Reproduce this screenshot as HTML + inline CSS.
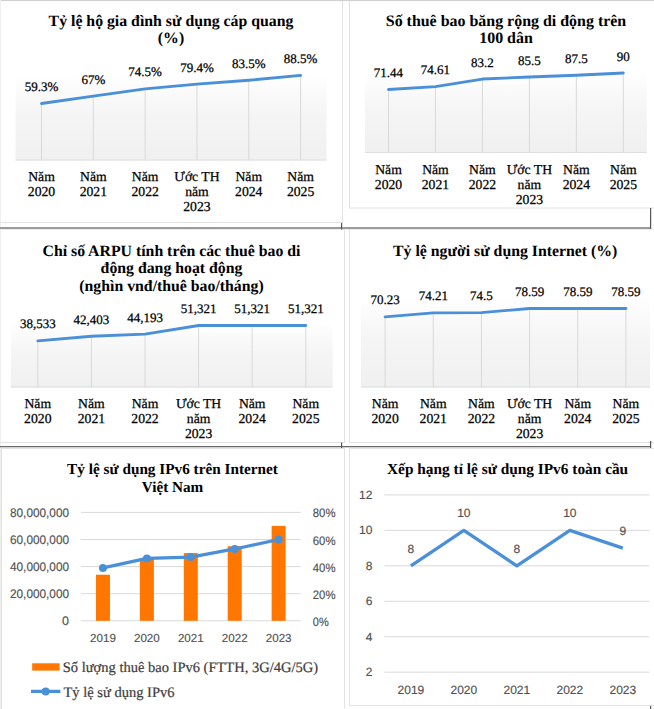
<!DOCTYPE html>
<html><head><meta charset="utf-8">
<style>
html,body{margin:0;padding:0;background:#fff;}
svg{display:block;}
text{font-family:"Liberation Serif",serif;text-rendering:geometricPrecision;}
.t{font-weight:bold;font-size:15.8px;fill:#000;text-anchor:middle}
.l{font-size:13px;fill:#000;text-anchor:middle;stroke:#000;stroke-width:0.25px}
.s{font-family:"Liberation Sans",sans-serif;font-size:11px;fill:#505050;stroke:#505050;stroke-width:0.15px}
</style></head><body>
<svg width="654" height="709" viewBox="0 0 654 709">
<defs><linearGradient id="g" x1="0" y1="0" x2="0" y2="1"><stop offset="0" stop-color="#ffffff"/><stop offset="0.45" stop-color="#f5f5f5"/><stop offset="1" stop-color="#f0f0f0"/></linearGradient></defs>

<g fill="none" stroke-width="1">
<rect x="-1" y="0.5" width="343.5" height="222" stroke="#e2e2e2"/>
<rect x="349.5" y="0.5" width="310" height="207.5" stroke="#e0e0e0"/>
<rect x="-1" y="229.5" width="345.5" height="213" stroke="#e2e2e2"/>
<rect x="349.5" y="229.5" width="310" height="213" stroke="#e2e2e2"/>
<rect x="1.5" y="448.5" width="343" height="270" stroke="#e2e2e2"/>
<rect x="349.5" y="448.5" width="310" height="257" stroke="#e2e2e2"/>
<line x1="0" y1="0.5" x2="654" y2="0.5" stroke="#d0d0d0"/>
<line x1="0.5" y1="0" x2="0.5" y2="709" stroke="#eeeeee"/>
<line x1="0" y1="229.5" x2="654" y2="229.5" stroke="#ececec"/>
</g>
<rect x="0" y="227" width="651" height="2" fill="#9b9b9b"/>
<rect x="0" y="446" width="651" height="1.3" fill="#6a6a6a"/>
<rect x="341" y="223" width="1.2" height="6.5" fill="#555"/>
<rect x="650" y="208" width="1.2" height="21" fill="#555"/>
<rect x="341" y="442.5" width="1.2" height="5.5" fill="#555"/>
<rect x="650" y="441" width="1.2" height="7" fill="#555"/>
<rect x="650" y="706" width="1.2" height="3" fill="#555"/>
<rect x="15.6" y="74" width="310.9" height="86.5" fill="url(#g)"/>
<line x1="41.51" y1="103.51" x2="41.51" y2="160.5" stroke="#d9d9d9" stroke-width="1"/>
<line x1="93.32" y1="96.11" x2="93.32" y2="160.5" stroke="#d9d9d9" stroke-width="1"/>
<line x1="145.14" y1="88.90" x2="145.14" y2="160.5" stroke="#d9d9d9" stroke-width="1"/>
<line x1="196.96" y1="84.19" x2="196.96" y2="160.5" stroke="#d9d9d9" stroke-width="1"/>
<line x1="248.77" y1="80.25" x2="248.77" y2="160.5" stroke="#d9d9d9" stroke-width="1"/>
<line x1="300.59" y1="75.44" x2="300.59" y2="160.5" stroke="#d9d9d9" stroke-width="1"/>
<line x1="15.6" y1="160.0" x2="326.5" y2="160.0" stroke="#dedede" stroke-width="1"/>
<polyline points="41.51,103.51 93.32,96.11 145.14,88.90 196.96,84.19 248.77,80.25 300.59,75.44" fill="none" stroke="#4a90d9" stroke-width="2.85" stroke-linejoin="round" stroke-linecap="round"/>
<text class="l" x="41.51" y="91.01">59.3%</text>
<text class="l" x="93.32" y="83.61">67%</text>
<text class="l" x="145.14" y="76.40">74.5%</text>
<text class="l" x="196.96" y="71.69">79.4%</text>
<text class="l" x="248.77" y="67.75">83.5%</text>
<text class="l" x="300.59" y="62.94">88.5%</text>
<text class="l" style="font-size:13.7px" x="41.51" y="181.40">Năm</text>
<text class="l" style="font-size:13.7px" x="41.51" y="196.25">2020</text>
<text class="l" style="font-size:13.7px" x="93.32" y="181.40">Năm</text>
<text class="l" style="font-size:13.7px" x="93.32" y="196.25">2021</text>
<text class="l" style="font-size:13.7px" x="145.14" y="181.40">Năm</text>
<text class="l" style="font-size:13.7px" x="145.14" y="196.25">2022</text>
<text class="l" style="font-size:13.7px" x="196.96" y="181.40">Ước TH</text>
<text class="l" style="font-size:13.7px" x="196.96" y="196.25">năm</text>
<text class="l" style="font-size:13.7px" x="196.96" y="211.10">2023</text>
<text class="l" style="font-size:13.7px" x="248.77" y="181.40">Năm</text>
<text class="l" style="font-size:13.7px" x="248.77" y="196.25">2024</text>
<text class="l" style="font-size:13.7px" x="300.59" y="181.40">Năm</text>
<text class="l" style="font-size:13.7px" x="300.59" y="196.25">2025</text>
<text class="t" style="font-size:15.8px" x="171" y="25.80">Tỷ lệ hộ gia đình sử dụng cáp quang</text>
<text class="t" style="font-size:15.8px" x="171" y="43.40">(%)</text>
<rect x="365" y="73" width="281.79999999999995" height="80" fill="url(#g)"/>
<line x1="388.48" y1="89.50" x2="388.48" y2="153" stroke="#d9d9d9" stroke-width="1"/>
<line x1="435.45" y1="86.68" x2="435.45" y2="153" stroke="#d9d9d9" stroke-width="1"/>
<line x1="482.42" y1="79.04" x2="482.42" y2="153" stroke="#d9d9d9" stroke-width="1"/>
<line x1="529.38" y1="77.00" x2="529.38" y2="153" stroke="#d9d9d9" stroke-width="1"/>
<line x1="576.35" y1="75.22" x2="576.35" y2="153" stroke="#d9d9d9" stroke-width="1"/>
<line x1="623.32" y1="73.00" x2="623.32" y2="153" stroke="#d9d9d9" stroke-width="1"/>
<line x1="365" y1="152.5" x2="646.8" y2="152.5" stroke="#dedede" stroke-width="1"/>
<polyline points="388.48,89.50 435.45,86.68 482.42,79.04 529.38,77.00 576.35,75.22 623.32,73.00" fill="none" stroke="#4a90d9" stroke-width="2.85" stroke-linejoin="round" stroke-linecap="round"/>
<text class="l" x="388.48" y="77.10">71.44</text>
<text class="l" x="435.45" y="74.28">74.61</text>
<text class="l" x="482.42" y="66.64">83.2</text>
<text class="l" x="529.38" y="64.60">85.5</text>
<text class="l" x="576.35" y="62.82">87.5</text>
<text class="l" x="623.32" y="60.60">90</text>
<text class="l" style="font-size:13.7px" x="388.48" y="173.90">Năm</text>
<text class="l" style="font-size:13.7px" x="388.48" y="188.75">2020</text>
<text class="l" style="font-size:13.7px" x="435.45" y="173.90">Năm</text>
<text class="l" style="font-size:13.7px" x="435.45" y="188.75">2021</text>
<text class="l" style="font-size:13.7px" x="482.42" y="173.90">Năm</text>
<text class="l" style="font-size:13.7px" x="482.42" y="188.75">2022</text>
<text class="l" style="font-size:13.7px" x="529.38" y="173.90">Ước TH</text>
<text class="l" style="font-size:13.7px" x="529.38" y="188.75">năm</text>
<text class="l" style="font-size:13.7px" x="529.38" y="203.60">2023</text>
<text class="l" style="font-size:13.7px" x="576.35" y="173.90">Năm</text>
<text class="l" style="font-size:13.7px" x="576.35" y="188.75">2024</text>
<text class="l" style="font-size:13.7px" x="623.32" y="173.90">Năm</text>
<text class="l" style="font-size:13.7px" x="623.32" y="188.75">2025</text>
<text class="t" style="font-size:15.95px" x="506" y="25.70">Số thuê bao băng rộng di động trên</text>
<text class="t" style="font-size:15.95px" x="506" y="43.30">100 dân</text>
<rect x="11" y="322.5" width="321.6" height="65.0" fill="url(#g)"/>
<line x1="37.80" y1="340.94" x2="37.80" y2="387.5" stroke="#d9d9d9" stroke-width="1"/>
<line x1="91.40" y1="336.26" x2="91.40" y2="387.5" stroke="#d9d9d9" stroke-width="1"/>
<line x1="145.00" y1="334.10" x2="145.00" y2="387.5" stroke="#d9d9d9" stroke-width="1"/>
<line x1="198.60" y1="325.49" x2="198.60" y2="387.5" stroke="#d9d9d9" stroke-width="1"/>
<line x1="252.20" y1="325.49" x2="252.20" y2="387.5" stroke="#d9d9d9" stroke-width="1"/>
<line x1="305.80" y1="325.49" x2="305.80" y2="387.5" stroke="#d9d9d9" stroke-width="1"/>
<line x1="11" y1="387.0" x2="332.6" y2="387.0" stroke="#dedede" stroke-width="1"/>
<polyline points="37.80,340.94 91.40,336.26 145.00,334.10 198.60,325.49 252.20,325.49 305.80,325.49" fill="none" stroke="#4a90d9" stroke-width="2.85" stroke-linejoin="round" stroke-linecap="round"/>
<text class="l" x="37.80" y="328.44">38,533</text>
<text class="l" x="91.40" y="323.76">42,403</text>
<text class="l" x="145.00" y="321.60">44,193</text>
<text class="l" x="198.60" y="312.99">51,321</text>
<text class="l" x="252.20" y="312.99">51,321</text>
<text class="l" x="305.80" y="312.99">51,321</text>
<text class="l" style="font-size:13.7px" x="37.80" y="408.00">Năm</text>
<text class="l" style="font-size:13.7px" x="37.80" y="422.85">2020</text>
<text class="l" style="font-size:13.7px" x="91.40" y="408.00">Năm</text>
<text class="l" style="font-size:13.7px" x="91.40" y="422.85">2021</text>
<text class="l" style="font-size:13.7px" x="145.00" y="408.00">Năm</text>
<text class="l" style="font-size:13.7px" x="145.00" y="422.85">2022</text>
<text class="l" style="font-size:13.7px" x="198.60" y="408.00">Ước TH</text>
<text class="l" style="font-size:13.7px" x="198.60" y="422.85">năm</text>
<text class="l" style="font-size:13.7px" x="198.60" y="437.70">2023</text>
<text class="l" style="font-size:13.7px" x="252.20" y="408.00">Năm</text>
<text class="l" style="font-size:13.7px" x="252.20" y="422.85">2024</text>
<text class="l" style="font-size:13.7px" x="305.80" y="408.00">Năm</text>
<text class="l" style="font-size:13.7px" x="305.80" y="422.85">2025</text>
<text class="t" style="font-size:15.8px" x="171.5" y="256.00">Chỉ số ARPU tính trên các thuê bao di</text>
<text class="t" style="font-size:15.8px" x="171.5" y="273.30">động đang hoạt động</text>
<text class="t" style="font-size:15.8px" x="171.5" y="290.60">(nghìn vnđ/thuê bao/tháng)</text>
<rect x="361" y="297" width="289" height="90.5" fill="url(#g)"/>
<line x1="385.08" y1="316.88" x2="385.08" y2="387.5" stroke="#d9d9d9" stroke-width="1"/>
<line x1="433.25" y1="312.88" x2="433.25" y2="387.5" stroke="#d9d9d9" stroke-width="1"/>
<line x1="481.42" y1="312.59" x2="481.42" y2="387.5" stroke="#d9d9d9" stroke-width="1"/>
<line x1="529.58" y1="308.47" x2="529.58" y2="387.5" stroke="#d9d9d9" stroke-width="1"/>
<line x1="577.75" y1="308.47" x2="577.75" y2="387.5" stroke="#d9d9d9" stroke-width="1"/>
<line x1="625.92" y1="308.47" x2="625.92" y2="387.5" stroke="#d9d9d9" stroke-width="1"/>
<line x1="361" y1="387.0" x2="650" y2="387.0" stroke="#dedede" stroke-width="1"/>
<polyline points="385.08,316.88 433.25,312.88 481.42,312.59 529.58,308.47 577.75,308.47 625.92,308.47" fill="none" stroke="#4a90d9" stroke-width="2.85" stroke-linejoin="round" stroke-linecap="round"/>
<text class="l" x="385.08" y="304.18">70.23</text>
<text class="l" x="433.25" y="300.18">74.21</text>
<text class="l" x="481.42" y="299.89">74.5</text>
<text class="l" x="529.58" y="295.77">78.59</text>
<text class="l" x="577.75" y="295.77">78.59</text>
<text class="l" x="625.92" y="295.77">78.59</text>
<text class="l" style="font-size:13.7px" x="385.08" y="408.30">Năm</text>
<text class="l" style="font-size:13.7px" x="385.08" y="423.15">2020</text>
<text class="l" style="font-size:13.7px" x="433.25" y="408.30">Năm</text>
<text class="l" style="font-size:13.7px" x="433.25" y="423.15">2021</text>
<text class="l" style="font-size:13.7px" x="481.42" y="408.30">Năm</text>
<text class="l" style="font-size:13.7px" x="481.42" y="423.15">2022</text>
<text class="l" style="font-size:13.7px" x="529.58" y="408.30">Ước TH</text>
<text class="l" style="font-size:13.7px" x="529.58" y="423.15">năm</text>
<text class="l" style="font-size:13.7px" x="529.58" y="438.00">2023</text>
<text class="l" style="font-size:13.7px" x="577.75" y="408.30">Năm</text>
<text class="l" style="font-size:13.7px" x="577.75" y="423.15">2024</text>
<text class="l" style="font-size:13.7px" x="625.92" y="408.30">Năm</text>
<text class="l" style="font-size:13.7px" x="625.92" y="423.15">2025</text>
<text class="t" style="font-size:15.8px" x="505.2" y="255.80">Tỷ lệ người sử dụng Internet (%)</text>
<line x1="81" y1="512.4" x2="300.6" y2="512.4" stroke="#d9d9d9" stroke-width="1"/>
<line x1="81" y1="539.5" x2="300.6" y2="539.5" stroke="#d9d9d9" stroke-width="1"/>
<line x1="81" y1="566.6" x2="300.6" y2="566.6" stroke="#d9d9d9" stroke-width="1"/>
<line x1="81" y1="593.7" x2="300.6" y2="593.7" stroke="#d9d9d9" stroke-width="1"/>
<line x1="81" y1="620.8" x2="300.6" y2="620.8" stroke="#d9d9d9" stroke-width="1"/>
<text class="s" style="font-size:12.5px" x="69" y="516.70" text-anchor="end" textLength="59.0" lengthAdjust="spacingAndGlyphs">80,000,000</text>
<text class="s" style="font-size:12.3px" x="312.8" y="517.40" textLength="22.7" lengthAdjust="spacingAndGlyphs">80%</text>
<text class="s" style="font-size:12.5px" x="69" y="543.80" text-anchor="end" textLength="59.0" lengthAdjust="spacingAndGlyphs">60,000,000</text>
<text class="s" style="font-size:12.3px" x="312.8" y="544.50" textLength="22.7" lengthAdjust="spacingAndGlyphs">60%</text>
<text class="s" style="font-size:12.5px" x="69" y="570.90" text-anchor="end" textLength="59.0" lengthAdjust="spacingAndGlyphs">40,000,000</text>
<text class="s" style="font-size:12.3px" x="312.8" y="571.60" textLength="22.7" lengthAdjust="spacingAndGlyphs">40%</text>
<text class="s" style="font-size:12.5px" x="69" y="598.00" text-anchor="end" textLength="59.0" lengthAdjust="spacingAndGlyphs">20,000,000</text>
<text class="s" style="font-size:12.3px" x="312.8" y="598.70" textLength="22.7" lengthAdjust="spacingAndGlyphs">20%</text>
<text class="s" style="font-size:12.5px" x="69" y="625.10" text-anchor="end">0</text>
<text class="s" style="font-size:12.3px" x="312.8" y="625.80" textLength="15.9" lengthAdjust="spacingAndGlyphs">0%</text>
<rect x="95.96" y="574.73" width="14" height="46.07" fill="#ff7700"/>
<rect x="139.88" y="558.47" width="14" height="62.33" fill="#ff7700"/>
<rect x="183.80" y="553.05" width="14" height="67.75" fill="#ff7700"/>
<rect x="227.72" y="546.27" width="14" height="74.52" fill="#ff7700"/>
<rect x="271.64" y="525.95" width="14" height="94.85" fill="#ff7700"/>
<polyline points="102.96,567.95 146.88,558.47 190.80,557.12 234.72,548.99 278.64,539.50" fill="none" stroke="#4a90d9" stroke-width="3.3" stroke-linejoin="round"/>
<circle cx="102.96" cy="567.95" r="4" fill="#4a90d9"/>
<circle cx="146.88" cy="558.47" r="4" fill="#4a90d9"/>
<circle cx="190.80" cy="557.12" r="4" fill="#4a90d9"/>
<circle cx="234.72" cy="548.99" r="4" fill="#4a90d9"/>
<circle cx="278.64" cy="539.50" r="4" fill="#4a90d9"/>
<text class="s" style="font-size:11.6px" x="102.96" y="641.5" text-anchor="middle">2019</text>
<text class="s" style="font-size:11.6px" x="146.88" y="641.5" text-anchor="middle">2020</text>
<text class="s" style="font-size:11.6px" x="190.80" y="641.5" text-anchor="middle">2021</text>
<text class="s" style="font-size:11.6px" x="234.72" y="641.5" text-anchor="middle">2022</text>
<text class="s" style="font-size:11.6px" x="278.64" y="641.5" text-anchor="middle">2023</text>
<text class="t" style="font-size:15.25px" x="172.5" y="474">Tỷ lệ sử dụng IPv6 trên Internet</text>
<text class="t" style="font-size:15.2px" x="172.5" y="491.5">Việt Nam</text>
<rect x="32.2" y="663.3" width="27.4" height="7.3" fill="#ff7700"/>
<text x="62.8" y="671.9" style="font-size:14.5px;fill:#3c3c3c;stroke:#3c3c3c;stroke-width:0.2px">Số lượng thuê bao IPv6 (FTTH, 3G/4G/5G)</text>
<line x1="31" y1="691.4" x2="60.4" y2="691.4" stroke="#4a90d9" stroke-width="3.3"/>
<circle cx="45.7" cy="691.4" r="4" fill="#4a90d9"/>
<text x="63.5" y="697.2" style="font-size:14.5px;fill:#3c3c3c;stroke:#3c3c3c;stroke-width:0.2px">Tỷ lệ sử dụng IPv6</text>
<line x1="384.4" y1="494.90" x2="649.3" y2="494.90" stroke="#d9d9d9" stroke-width="1"/>
<text class="s" style="font-size:12px" x="372.4" y="498.90" text-anchor="end">12</text>
<line x1="384.4" y1="530.36" x2="649.3" y2="530.36" stroke="#d9d9d9" stroke-width="1"/>
<text class="s" style="font-size:12px" x="372.4" y="534.36" text-anchor="end">10</text>
<line x1="384.4" y1="565.82" x2="649.3" y2="565.82" stroke="#d9d9d9" stroke-width="1"/>
<text class="s" style="font-size:12px" x="372.4" y="569.82" text-anchor="end">8</text>
<line x1="384.4" y1="601.28" x2="649.3" y2="601.28" stroke="#d9d9d9" stroke-width="1"/>
<text class="s" style="font-size:12px" x="372.4" y="605.28" text-anchor="end">6</text>
<line x1="384.4" y1="636.74" x2="649.3" y2="636.74" stroke="#d9d9d9" stroke-width="1"/>
<text class="s" style="font-size:12px" x="372.4" y="640.74" text-anchor="end">4</text>
<line x1="384.4" y1="672.20" x2="649.3" y2="672.20" stroke="#d9d9d9" stroke-width="1"/>
<text class="s" style="font-size:12px" x="372.4" y="676.20" text-anchor="end">2</text>
<polyline points="410.89,565.82 463.87,530.36 516.85,565.82 569.83,530.36 622.81,548.09" fill="none" stroke="#4a90d9" stroke-width="3.3" stroke-linejoin="round"/>
<text class="s" style="font-size:12px" x="410.89" y="552.62" text-anchor="middle">8</text>
<text class="s" style="font-size:12px" x="463.87" y="517.16" text-anchor="middle">10</text>
<text class="s" style="font-size:12px" x="516.85" y="552.62" text-anchor="middle">8</text>
<text class="s" style="font-size:12px" x="569.83" y="517.16" text-anchor="middle">10</text>
<text class="s" style="font-size:12px" x="622.81" y="534.89" text-anchor="middle">9</text>
<text class="s" style="font-size:12px" x="410.89" y="694" text-anchor="middle">2019</text>
<text class="s" style="font-size:12px" x="463.87" y="694" text-anchor="middle">2020</text>
<text class="s" style="font-size:12px" x="516.85" y="694" text-anchor="middle">2021</text>
<text class="s" style="font-size:12px" x="569.83" y="694" text-anchor="middle">2022</text>
<text class="s" style="font-size:12px" x="622.81" y="694" text-anchor="middle">2023</text>
<text class="t" style="font-size:15.35px" x="507.6" y="473.7">Xếp hạng tỉ lệ sử dụng IPv6 toàn cầu</text>
</svg></body></html>
